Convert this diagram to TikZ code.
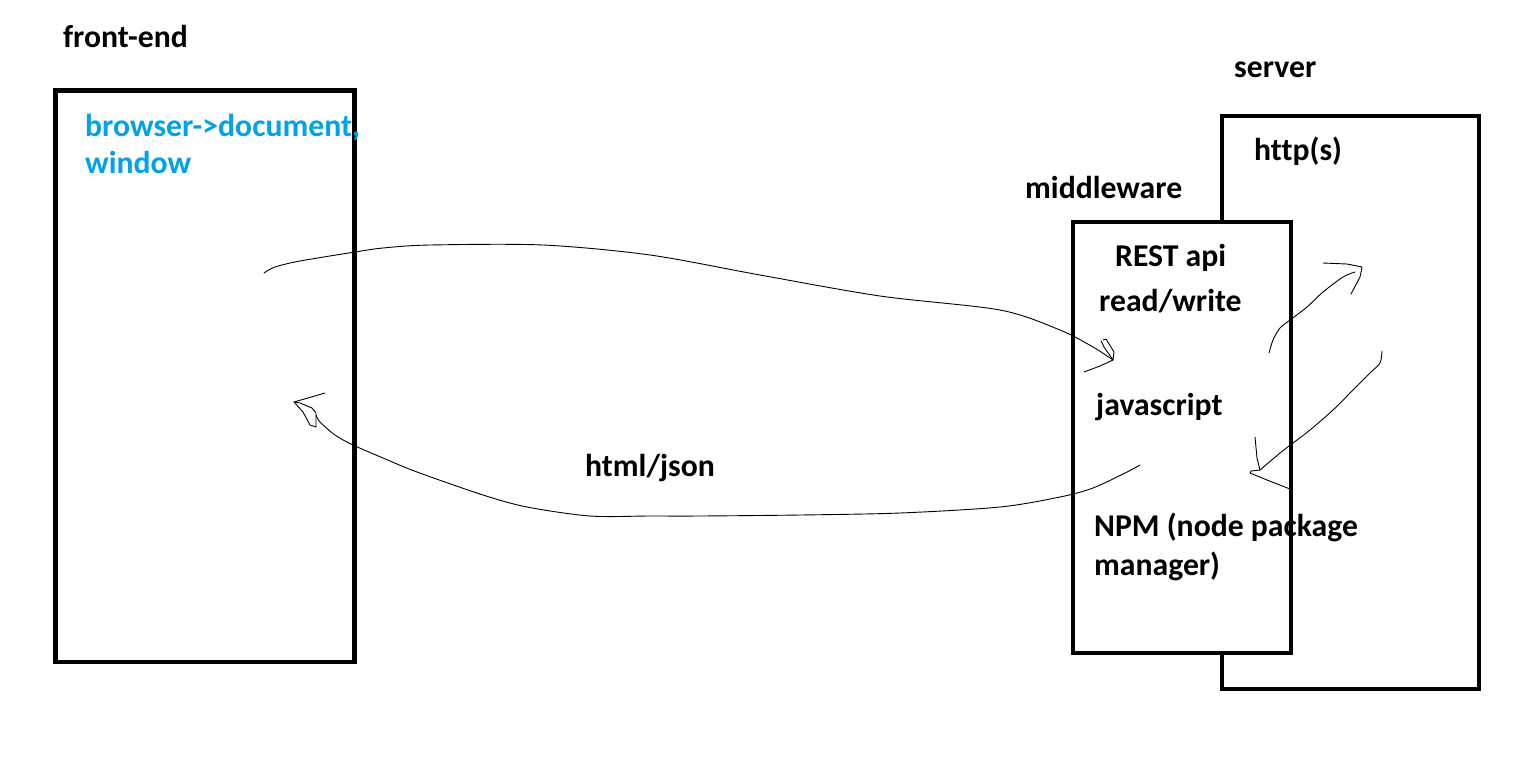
\documentclass[tikz,border=0pt]{standalone}
\usepackage{fontspec}
\setmainfont{Carlito}[Ligatures=NoCommon]
\definecolor{pblue}{RGB}{0,162,232}
\begin{document}
\begin{tikzpicture}[x=1pt,y=-1pt,
  box/.style={line width=4.5pt, draw=black, fill=white, inner sep=0pt},
  lbl/.style={anchor=base west, inner sep=0pt, font=\fontsize{31.7}{38}\selectfont\bfseries},
  hand/.style={line width=0.9pt, line join=round, line cap=round}]
\useasboundingbox[fill=white] (0,0) rectangle (1522,769);

% boxes
\node[box, minimum width=299pt, minimum height=571.5pt] (front) at (205,376.25) {};
\node[box, minimum width=257pt, minimum height=573pt] (server) at (1350.5,402.5) {};
\node[box, minimum width=218pt, minimum height=431pt] (middle) at (1182,437.5) {};

% labels
\node[lbl] (tfront) at (63,47) {front-end};
\node[lbl, text=pblue] (tbrowser) at (85,136) {browser-{}>document,};
\node[lbl, text=pblue] (twindow) at (85,173) {window};
\node[lbl] (tserver) at (1234,77) {server};
\node[lbl] (thttp) at (1254,160) {http(s)};
\node[lbl] (tmiddle) at (1025,198) {middleware};
\node[lbl] (trest) at (1115,266) {REST api};
\node[lbl] (trw) at (1099,311) {read/write};
\node[lbl] (tjs) at (1096,415) {javascript};
\node[lbl] (thtml) at (585,476) {html/json};
\node[lbl] (tnpm) at (1094,536) {NPM (node package};
\node[lbl] (tmgr) at (1094,575) {manager)};

% connector endpoints
\coordinate (r1s) at (264,273);
\coordinate (r1e) at (1113,360);
\coordinate (r2s) at (1140,465);
\coordinate (r2e) at (294,402);
\coordinate (r3s) at (1269,353);
\coordinate (r3e) at (1362,267);
\coordinate (r4s) at (1382,351);
\coordinate (r4e) at (1260,470);

% request: front-end -> middleware
\draw[hand] plot[smooth, tension=0.5] coordinates {(r1s) (275,267) (300,261) (355,252) (383,248) (430,245) (543,245) (650,255) (760,275) (880,296) (1000,310) (1060,330) (1093,347) (r1e)};
\draw[hand] (1103,340) -- (1106,339) -- (1114,352) -- (r1e) -- (1104,347) -- (1101,341);
\draw[hand] (r1e) -- (1100,366) -- (1084,372);

% response: middleware -> front-end
\draw[hand] plot[smooth, tension=0.5] coordinates {(r2s) (1127,472) (1093,488) (1060,497) (1000,507) (900,513) (800,515) (700,516) (650,516) (590,516) (527,507) (483,495) (417,472) (383,458) (353,445) (335,435) (320,422) (316,415)};
\draw[hand] (r2e) -- (303,412) -- (310,425) -- (316,427) -- (316,413) -- (312,408) -- (300,403) -- (r2e);
\draw[hand] (r2e) -- (325,393);

% middleware -> server
\draw[hand] plot[smooth, tension=0.5] coordinates {(r3s) (1273,340) (1280,328) (1290,320) (1307,307) (1323,292) (1343,277) (1355,272)};
\draw[hand] (1323,263) -- (1347,264) -- (r3e) -- (1360,277) -- (1351,294);

% server -> middleware
\draw[hand] plot[smooth, tension=0.5] coordinates {(r4s) (1380,363) (1370,373) (1353,390) (1333,410) (1310,430) (1293,443) (1280,453) (r4e)};
\draw[hand] (1255,437) -- (1257,458) -- (r4e) -- (1251,471) -- (1250,473) -- (1267,480) -- (1290,489);
\end{tikzpicture}
\end{document}
